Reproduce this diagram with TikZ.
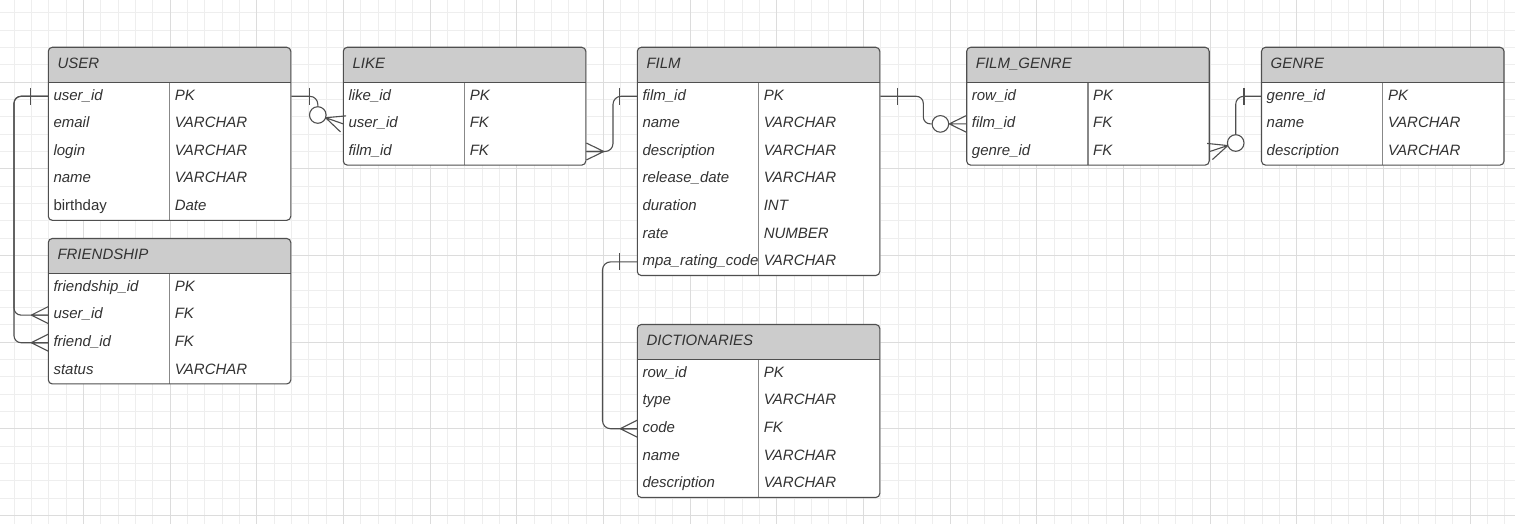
\documentclass[tikz,border=0pt]{standalone}
\usepackage{fontspec}
\setmainfont{Liberation Sans}
\usetikzlibrary{calc}

\definecolor{ink}{HTML}{333333}
\definecolor{edge}{HTML}{4F4F4F}
\definecolor{hdrfill}{HTML}{CCCCCC}
\definecolor{gridminor}{HTML}{EEEEEE}
\definecolor{gridmajor}{HTML}{DCDCDC}
\definecolor{divline}{HTML}{888888}

\tikzset{
  cell/.style={anchor=north west, inner xsep=5pt, inner ysep=0pt,
    text width=111.3pt, align=left, minimum height=27.6pt,
    text height=11pt, text depth=3.5pt, text=ink,
    font=\fontsize{15}{18}\selectfont\itshape},
  hdr/.style={anchor=north west, inner xsep=9pt, inner ysep=0pt,
    text width=224.5pt, align=left, minimum height=35pt,
    text height=11pt, text depth=3.5pt, text=ink,
    font=\fontsize{15}{18}\selectfont\itshape},
  outline/.style={draw=edge, line width=1.1pt},
  conn/.style={draw=edge, line width=1.1pt},
  ring/.style={circle, draw=edge, fill=white, line width=1.1pt,
    minimum size=16.6pt, inner sep=0pt},
  minorline/.style={draw=gridminor, line width=0.9pt},
  majorline/.style={draw=gridmajor, line width=0.9pt},
}

% entity table: #1 name, #2 left, #3 top, #4 title, #5 row count, #6 field/type list
\newcommand{\ertable}[6]{%
  \fill[white, rounded corners=4pt] (#2,#3) rectangle ++(242.5,{35+27.6*#5});
  \begin{scope}
    \clip[rounded corners=4pt] (#2,#3) rectangle ++(242.5,{35+27.6*#5});
    \fill[hdrfill] (#2,#3) rectangle ++(242.5,35);
  \end{scope}
  \node[hdr] (#1) at (#2,#3) {#4};
  \foreach \f/\t [count=\i] in {#6} {
    \node[cell] (#1-\i) at (#2,{#3+35+27.6*(\i-1)}) {\f};
    \node[cell] (#1-t\i) at ({#2+121.3},{#3+35+27.6*(\i-1)}) {\t};
  }
  \draw[draw=divline, line width=1.1pt] ({#2+121.3},{#3+35}) -- ++(0,{27.6*#5});
  \draw[outline] (#2,{#3+35}) -- ++(242.5,0);
  \draw[outline, rounded corners=4pt] (#2,#3) rectangle ++(242.5,{35+27.6*#5});
}

% crow's foot: apex #1, touching point #2
\newcommand{\crowfoot}[2]{%
  \draw[conn] (#1) -- (#2)
    (#1) -- ($(#2)!8.5pt!90:(#1)$)
    (#1) -- ($(#2)!8.5pt!-90:(#1)$);
}
% single bar across a horizontal line at point #1
\newcommand{\onebar}[1]{%
  \draw[conn] ($(#1)+(0,-8.5)$) -- ($(#1)+(0,8.5)$);
}

\begin{document}
\begin{tikzpicture}[x=1pt, y=-1pt]
\useasboundingbox (0,0) rectangle (1515,524);
\fill[white] (0,0) rectangle (1515,524);

% background grid
\begin{scope}
  \clip (0,0) rectangle (1515,524);
  \foreach \k in {0,...,86} \draw[minorline] ({14+17.3333*\k},0) -- ++(0,524);
  \foreach \k in {0,...,29} \draw[minorline] (0,{12.667+17.3333*\k}) -- ++(1515,0);
  \foreach \k in {0,...,16} \draw[majorline] ({83.333+86.667*\k},0) -- ++(0,524);
  \foreach \k in {0,...,5} \draw[majorline] (0,{82+86.667*\k}) -- ++(1515,0);
\end{scope}

% tables
\ertable{user}{48.3}{47.3}{USER}{5}{user\_id/PK, email/VARCHAR, login/VARCHAR,
  name/VARCHAR, {\upshape birthday}/Date}
\ertable{friendship}{48.3}{238.5}{FRIENDSHIP}{4}{friendship\_id/PK, user\_id/FK,
  friend\_id/FK, status/VARCHAR}
\ertable{like}{343.3}{47.3}{LIKE}{3}{like\_id/PK, user\_id/FK, film\_id/FK}
\ertable{film}{637.3}{47.3}{FILM}{7}{film\_id/PK, name/VARCHAR, description/VARCHAR,
  release\_date/VARCHAR, duration/INT, rate/NUMBER, mpa\_rating\_code/VARCHAR}
\ertable{fg}{966.7}{47.3}{FILM\_GENRE}{3}{row\_id/PK, film\_id/FK, genre\_id/FK}
\ertable{genre}{1261.5}{47.3}{GENRE}{3}{genre\_id/PK, name/VARCHAR,
  description/VARCHAR}
\ertable{dict}{637.3}{324.5}{DICTIONARIES}{5}{row\_id/PK, type/VARCHAR, code/FK,
  name/VARCHAR, description/VARCHAR}

% USER.user_id -> FRIENDSHIP.user_id / friend_id
\draw[conn, rounded corners=7pt] (user-1.west) -- ++(-34.3,0) |- (friendship-2.west);
\draw[conn, rounded corners=7pt] (user-1.west) -- ++(-34.3,0) |- (friendship-3.west);
\onebar{$(user-1.west)+(-17.5,0)$}
\coordinate (fa2) at ($(friendship-2.west)+(-17,0)$);
\coordinate (fa3) at ($(friendship-3.west)+(-17,0)$);
\crowfoot{fa2}{friendship-2.west}
\crowfoot{fa3}{friendship-3.west}

% USER.user_id -> LIKE.user_id
\node[ring] (o2) at ($(user-t1.east)+(26.5,18.7)$) {};
\draw[conn, rounded corners=8pt] (user-t1.east) -| (o2.north);
\onebar{$(user-t1.east)+(18,0)$}
\coordinate (la2) at ($(o2.center)!8.3pt!(like-2.west)$);
\crowfoot{la2}{like-2.west}

% LIKE.film_id -> FILM.film_id
\draw[conn, rounded corners=8pt] (like-t3.east) -- ++(26.7,0) |- (film-1.west);
\coordinate (la3) at ($(like-t3.east)+(17.5,0)$);
\crowfoot{la3}{like-t3.east}
\onebar{$(film-1.west)+(-17.5,0)$}

% FILM.film_id -> FILM_GENRE.film_id
\node[ring] (o4) at ($(fg-2.west)+(-26.3,0)$) {};
\draw[conn, rounded corners=7pt] (film-t1.east) -- ++(43,0) |- (o4.west);
\onebar{$(film-t1.east)+(17.5,0)$}
\crowfoot{o4.east}{fg-2.west}

% FILM_GENRE.genre_id -> GENRE.genre_id
\node[ring] (o5) at ($(fg-t3.east)+(26,-8.5)$) {};
\draw[conn, rounded corners=8pt] (o5.north) |- (genre-1.west);
\onebar{$(genre-1.west)+(-17.5,0)$}
\coordinate (ga3) at ($(o5.center)!8.3pt!(fg-t3.east)$);
\crowfoot{ga3}{fg-t3.east}

% FILM.mpa_rating_code -> DICTIONARIES.code
\draw[conn, rounded corners=8pt] (film-7.west) -- ++(-34.8,0) |- (dict-3.west);
\onebar{$(film-7.west)+(-17.5,0)$}
\coordinate (da3) at ($(dict-3.west)+(-17,0)$);
\crowfoot{da3}{dict-3.west}
\end{tikzpicture}
\end{document}
